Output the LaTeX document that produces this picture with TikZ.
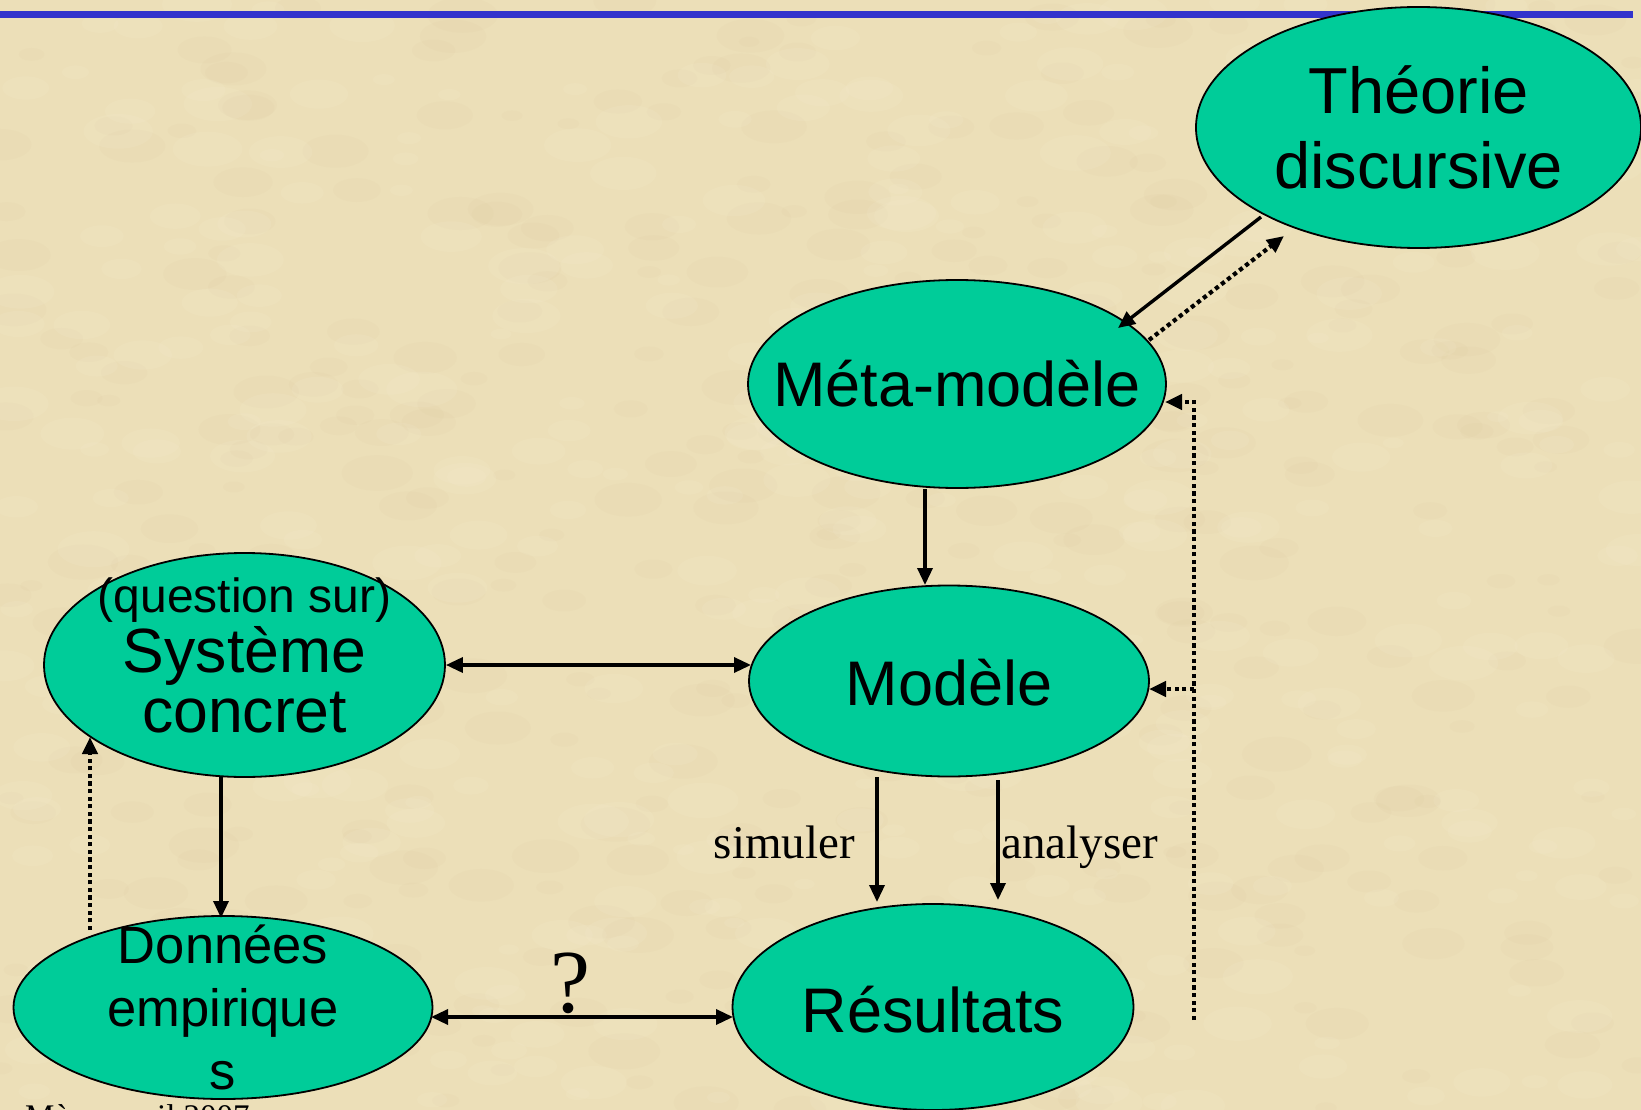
\documentclass[tikz,border=0pt]{standalone}
\usepackage{fontspec}
\setmainfont{Liberation Sans}
\newfontfamily\serifface{Liberation Serif}
\usetikzlibrary{shapes.geometric,arrows.meta,calc}
\definecolor{parch}{RGB}{236,223,184}
\definecolor{parchlight}{RGB}{248,240,214}
\definecolor{parchdark}{RGB}{210,190,142}
\definecolor{bubblegreen}{RGB}{0,204,153}
\definecolor{topbar}{RGB}{51,51,204}
\begin{document}
\begin{tikzpicture}[x=1pt,y=-1pt,
  bubble/.style={ellipse, draw=black, line width=1.8pt, fill=bubblegreen, inner sep=0pt},
  btext/.style={inner sep=0pt, align=center, text=black},
  tip/.tip={Triangle[length=17pt,width=15pt]},
  conn/.style={line width=3.4pt, -tip},
  twoway/.style={line width=3.4pt, tip-tip},
  dotline/.style={line width=4.2pt, dash pattern=on 4.2pt off 3.4pt},
  dotconn/.style={dotline, -tip},
  lbl/.style={inner sep=0pt, font=\serifface\fontsize{47}{56}\selectfont}
]
\useasboundingbox (0,0) rectangle (1641,1110);
\clip (0,0) rectangle (1641,1110);

% parchment background with a soft grain
\fill[parch] (0,0) rectangle (1641,1110);
\pgfmathsetseed{7}
\foreach \i in {1,...,420}{
  \pgfmathsetmacro{\bx}{1641*rnd}
  \pgfmathsetmacro{\by}{1110*rnd}
  \pgfmathsetmacro{\br}{10+26*rnd}
  \fill[parchdark, opacity=0.07] (\bx,\by) ellipse [x radius=\br, y radius=0.5*\br];
}
\foreach \i in {1,...,420}{
  \pgfmathsetmacro{\bx}{1641*rnd}
  \pgfmathsetmacro{\by}{1110*rnd}
  \pgfmathsetmacro{\br}{10+26*rnd}
  \fill[parchlight, opacity=0.12] (\bx,\by) ellipse [x radius=\br, y radius=0.5*\br];
}

% title rule
\fill[topbar] (0,11) rectangle (1633,17.7);

% footer
\node[anchor=base west, inner sep=0pt, font=\serifface\fontsize{33}{40}\selectfont] (foot) at (25,1127) {Mèze, avril 2007};

% ellipses
\node[bubble, minimum width=445pt, minimum height=241pt] (theo)  at (1418.5,127.5) {};
\node[bubble, minimum width=418pt, minimum height=208pt] (meta)  at (957,384) {};
\node[bubble, minimum width=400pt, minimum height=191pt] (model) at (949,681) {};
\node[bubble, minimum width=401pt, minimum height=224pt] (sys)   at (244.5,665) {};
\node[bubble, minimum width=419pt, minimum height=183pt] (don)   at (223,1007.5) {};
\node[bubble, minimum width=401pt, minimum height=206pt] (res)   at (933,1007) {};

% texts of the ellipses
\node[btext, font=\fontsize{65}{75}\selectfont] (theoT) at (theo.center) {Théorie\\discursive};
\node[btext, font=\fontsize{63}{72}\selectfont] (metaT) at (meta.center) {Méta-modèle};
\node[btext, font=\fontsize{63}{72}\selectfont] (modelT) at ([shift={(0,2)}]model.center) {Modèle};
\node[btext, font=\fontsize{63}{72}\selectfont] (resT) at ([shift={(0,3)}]res.center) {Résultats};
\node[btext, font=\fontsize{62.5}{60}\selectfont] (sysT) at ([shift={(0,-9.5)}]sys.center)
  {{\fontsize{48}{60}\selectfont (question sur)}\\Système\\concret};
\node[btext, font=\fontsize{52.5}{63}\selectfont] (donT) at ([shift={(0,0)}]don.center)
  {Données\\empirique\\s};

% connectors
\draw[conn] ([shift={(-157.5,89.5)}]theo.center) -- ([shift={(161,-56)}]meta.center);
\draw[dotconn] ([shift={(192,-44)}]meta.center) -- ([shift={(-134.5,108.5)}]theo.center);
\draw[conn] ([shift={(-32,105)}]meta.center) -- ([shift={(-24,-96)}]model.center);
\draw[twoway] (sys.east) -- ([shift={(-198,-16)}]model.center);
\draw[conn] ([shift={(-23.5,112)}]sys.center) -- ([shift={(-2,-89.5)}]don.center);
\draw[dotconn] ([shift={(-133,-77.5)}]don.center) -- ([shift={(-154.5,72)}]sys.center);
\draw[twoway] ([shift={(208,9.5)}]don.center) -- ([shift={(-200,10)}]res.center);
\draw[conn] ([shift={(-72,96)}]model.center) -- ([shift={(-56,-105)}]res.center);
\draw[conn] ([shift={(49,99)}]model.center) -- ([shift={(65,-107)}]res.center);

% feedback from the results
\coordinate (fb) at (1194,1020);
\coordinate (fbMeta) at ([shift={(208,18)}]meta.center);
\coordinate (fbModel) at ([shift={(200,8)}]model.center);
\draw[dotconn] (fb) |- (fbMeta);
\draw[dotconn] (fb |- fbModel) -- (fbModel);

% connector labels
\node[lbl, anchor=base east] (simT) at (855,858) {simuler};
\node[lbl, anchor=base west] (anaT) at (1001,858) {analyser};
\node[inner sep=0pt, anchor=base, font=\serifface\fontsize{90}{100}\selectfont] (qT) at (570,1012) {?};
\end{tikzpicture}
\end{document}
